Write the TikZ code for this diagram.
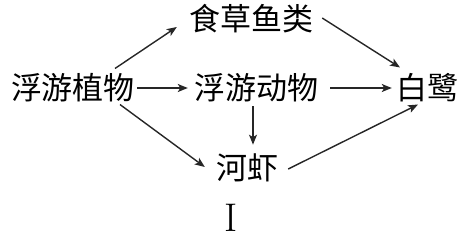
\documentclass[tikz,border=0pt]{standalone}
\usepackage{fontspec}
\newfontfamily\cjk{Noto Sans CJK SC}
\usetikzlibrary{positioning,calc,arrows.meta}

\begin{document}
\begin{tikzpicture}[
        x=1pt, y=-1pt,
        species/.style={inner sep=0pt, font=\cjk\fontsize{31pt}{34pt}\selectfont},
        caption/.style={inner sep=0pt, font=\fontsize{40pt}{44pt}\selectfont},
        arrow/.style={-{Stealth[length=10pt, width=8pt, inset=2.5pt]}, line width=1.4pt, draw=black!85}
        ]
        \useasboundingbox (0,0) rectangle (461,236);

        % Food web nodes
        \node[species] (phyto) at (73, 88) {浮游植物};
        \node[species] (fish) at (251, 19) {食草鱼类};
        \node[species] (zoo) at (256, 88) {浮游动物};
        \node[species] (shrimp) at (247, 168) {河虾};
        \node[species] (egret) at (427, 88) {白鹭};
        \node[caption] (label) at (231, 218) {I};

        % Connections
        \draw[arrow] ([xshift=42pt, yshift=5pt]phyto.north) -- ([xshift=-12pt, yshift=-8pt]fish.west);
        \draw[arrow] ([xshift=2pt]phyto.east) -- ([xshift=-6pt]zoo.west);
        \draw[arrow] ([xshift=47pt, yshift=-2pt]phyto.south) -- ([xshift=-11pt, yshift=1pt]shrimp.west);
        \draw[arrow] ([xshift=-3pt, yshift=-4pt]zoo.south) -- ([xshift=6pt, yshift=9pt]shrimp.north);
        \draw[arrow] ([xshift=12pt]zoo.east) -- ([xshift=-4pt]egret.west);
        \draw[arrow] ([xshift=9pt, yshift=1pt]fish.east) -- ([xshift=-27pt, yshift=6pt]egret.north);
        \draw[arrow] ([xshift=10pt, yshift=-1pt]shrimp.east) -- ([xshift=-9pt, yshift=-2pt]egret.south);

    \end{tikzpicture}
\end{document}
